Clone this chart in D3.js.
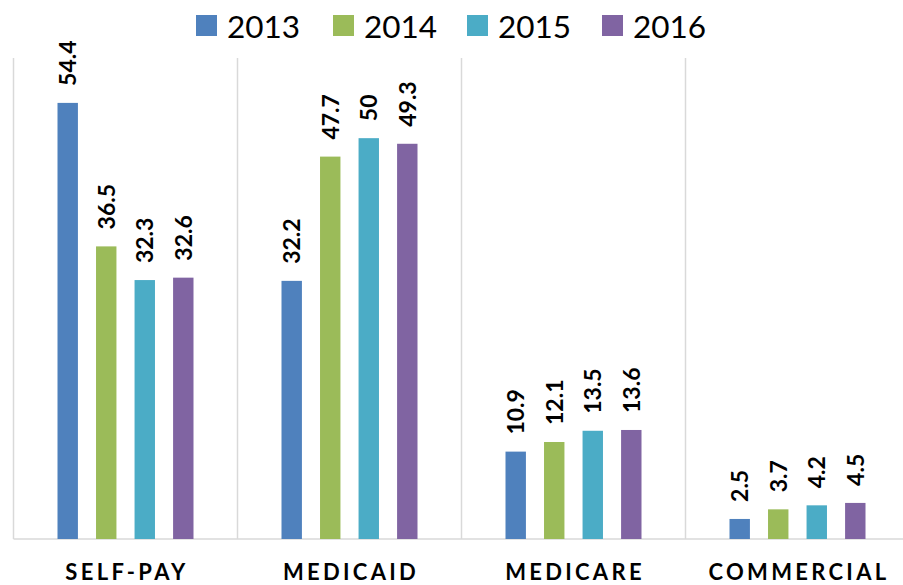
<!DOCTYPE html>
<meta charset="utf-8" />
<script src="https://d3js.org/d3.v7.min.js"></script>
<style>
  body { margin: 0; background: #fff; }
  text { font-family: Lato, "Open Sans", sans-serif; }
</style>
<div id="chart"></div>
<script>
  var width = 903;
  var height = 585;

  var categories = ["SELF-PAY", "MEDICAID", "MEDICARE", "COMMERCIAL"];
  var years = ["2013", "2014", "2015", "2016"];
  var v2013 = [54.4, 32.2, 10.9, 2.5];
  var v2014 = [36.5, 47.7, 12.1, 3.7];
  var v2015 = [32.3, 50, 13.5, 4.2];
  var v2016 = [32.6, 49.3, 13.6, 4.5];
  var series = [v2013, v2014, v2015, v2016];
  var colors = ["#4f81bd", "#9bbb59", "#4bacc6", "#8064a2"];

  var svg = d3.select("#chart").append("svg")
    .attr("width", width)
    .attr("height", height);

  var x0 = d3.scaleBand().domain(categories).range([13.5, 909.5]);
  var x1 = d3.scaleBand().domain(years).range([44, 180]).paddingInner(0.47);
  var y = d3.scaleLinear().domain([0, 60]).range([539, 58]);
  var color = d3.scaleOrdinal().domain(years).range(colors);

  // vertical separators between categories
  svg.append("g").selectAll("line")
    .data(categories)
    .enter().append("line")
    .attr("x1", function(d) { return x0(d); })
    .attr("x2", function(d) { return x0(d); })
    .attr("y1", y(60))
    .attr("y2", y(0))
    .attr("stroke", "#d9d9d9")
    .attr("stroke-width", 1.5);

  // baseline
  svg.append("line")
    .attr("x1", 13.5).attr("x2", width)
    .attr("y1", y(0)).attr("y2", y(0))
    .attr("stroke", "#d9d9d9")
    .attr("stroke-width", 1.5);

  var rows = [];
  categories.forEach(function(c, i) {
    years.forEach(function(yr, j) {
      rows.push({ cat: c, year: yr, value: series[j][i] });
    });
  });

  var bars = svg.append("g");
  bars.selectAll("rect")
    .data(rows)
    .enter().append("rect")
    .attr("x", function(d) { return x0(d.cat) + x1(d.year); })
    .attr("y", function(d) { return y(d.value); })
    .attr("width", x1.bandwidth())
    .attr("height", function(d) { return y(0) - y(d.value); })
    .attr("fill", function(d) { return color(d.year); });

  bars.selectAll("text")
    .data(rows)
    .enter().append("text")
    .attr("transform", function(d) {
      var cx = x0(d.cat) + x1(d.year) + x1.bandwidth() / 2;
      return "translate(" + cx + "," + (y(d.value) - 17) + ") rotate(-90)";
    })
    .attr("dy", "0.36em")
    .attr("font-size", 23)
    .attr("font-weight", "bold")
    .attr("fill", "#000")
    .text(function(d) { return d.value; });

  // category labels
  svg.append("g").selectAll("text")
    .data(categories)
    .enter().append("text")
    .attr("x", function(d) { return x0(d) + x0.bandwidth() / 2 + 1.5; })
    .attr("y", 579.5)
    .attr("text-anchor", "middle")
    .attr("font-size", 22)
    .attr("font-weight", "bold")
    .style("letter-spacing", "3.3px")
    .attr("fill", "#000")
    .text(function(d) { return d; });

  // legend
  var legendX = [196, 333, 467, 602];
  var legend = svg.append("g").selectAll("g")
    .data(years)
    .enter().append("g")
    .attr("transform", function(d, i) { return "translate(" + legendX[i] + ",0)"; });
  legend.append("rect")
    .attr("x", 0).attr("y", 15)
    .attr("width", 21).attr("height", 21)
    .attr("fill", function(d) { return color(d); });
  legend.append("text")
    .attr("x", 31).attr("y", 37.5)
    .attr("font-size", 31.5)
    .attr("fill", "#000")
    .text(function(d) { return d; });
</script>
